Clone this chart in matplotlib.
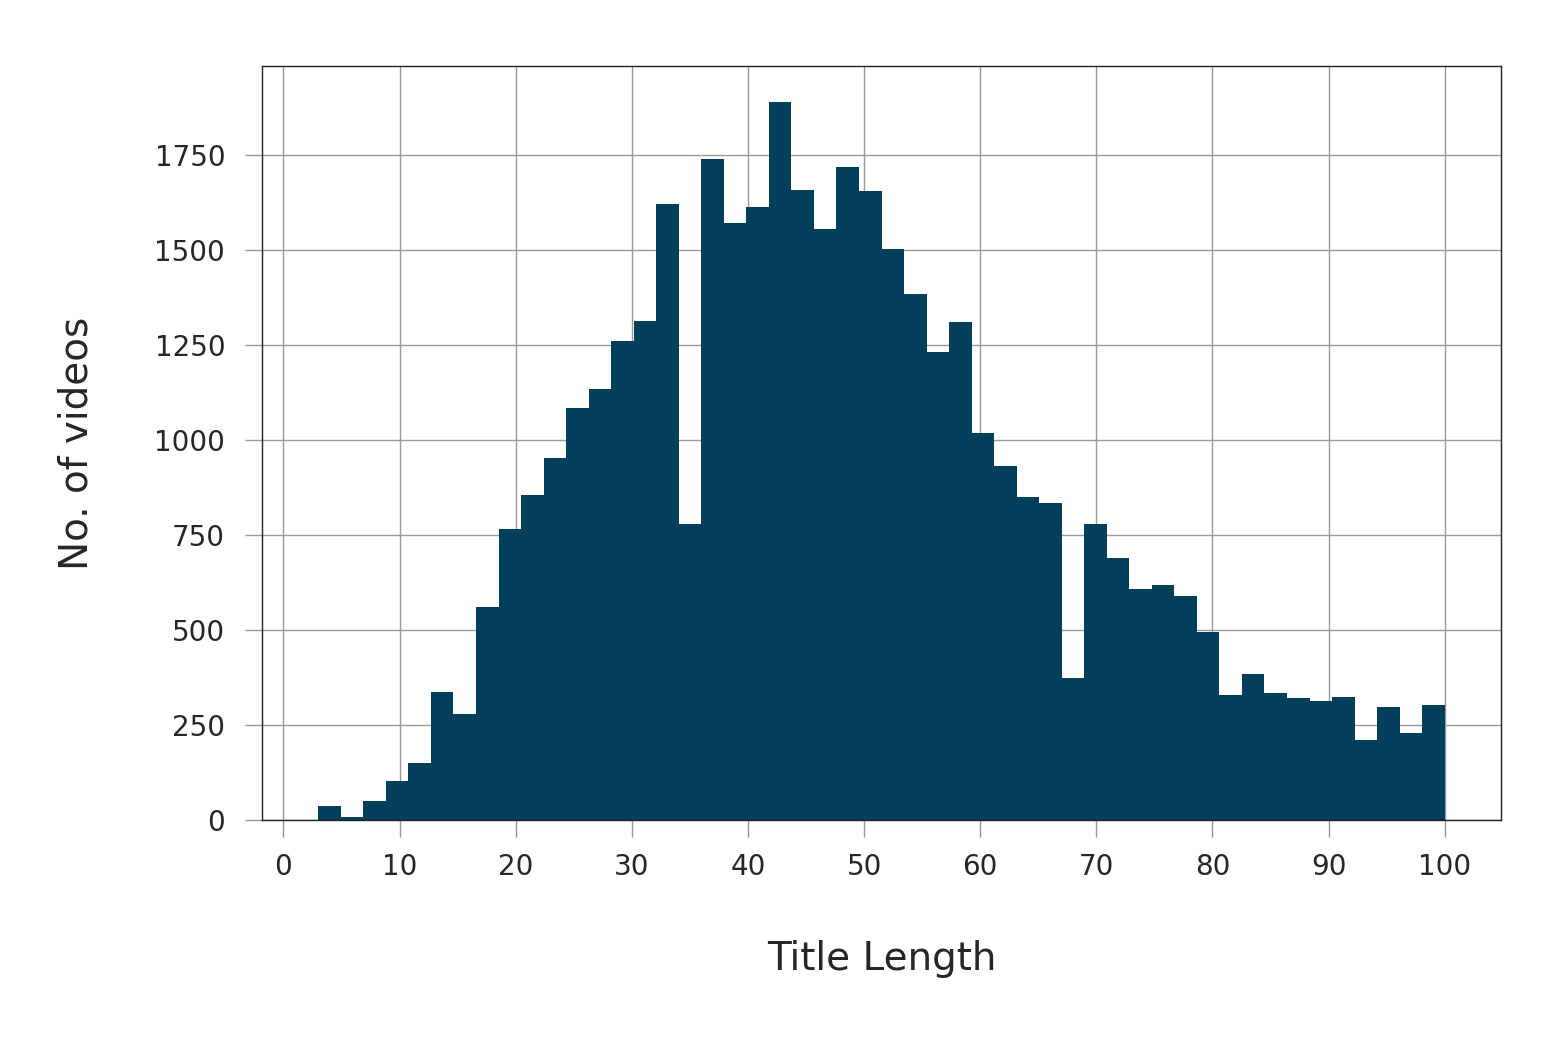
import numpy as np
import matplotlib
matplotlib.use('Agg')
import matplotlib.pyplot as plt

# ------------- DATA ------------- #
# title length histogram: 50 bins between shortest and longest title
len_min = 3
len_max = 100
n_bins = 50
counts = [37, 8, 51, 102, 150, 336, 279, 560, 765, 854,
          951, 1085, 1135, 1261, 1312, 1621, 778, 1739, 1571, 1613,
          1889, 1658, 1556, 1718, 1655, 1503, 1385, 1232, 1311, 1017,
          930, 851, 833, 374, 778, 688, 609, 617, 588, 494,
          328, 384, 334, 321, 313, 323, 210, 297, 229, 302]
x_ticks = list(range(0, 101, 10))
y_ticks = list(range(0, 1751, 250))

edges = np.linspace(len_min, len_max, n_bins + 1)

# ------------- PLOT ------------- #
plt.rcParams['font.family'] = ['DejaVu Sans']
text_col = '#262626'
grid_col = '#999999'

fig = plt.figure(figsize=(15.66, 10.38), dpi=100)
ax = fig.add_axes([0.1673, 0.21, 0.7912, 0.7264])

ax.hist(edges[:-1], bins=edges, weights=counts, color='#023f5a')

ax.set_xticks(x_ticks)
ax.set_yticks(y_ticks)
ax.grid(True, color=grid_col, linewidth=1)
ax.set_axisbelow(True)
ax.tick_params(axis='both', length=12.5, width=1, color=grid_col,
               labelsize=20, labelcolor=text_col)
ax.tick_params(axis='x', pad=11)
ax.tick_params(axis='y', pad=14)
for s in ax.spines.values():
    s.set_color('#222222')
    s.set_linewidth(1)

ax.set_xlabel('Title Length', fontsize=28, color=text_col, labelpad=43)
ax.set_ylabel('No. of videos', fontsize=28, color=text_col, labelpad=42)

plt.savefig('out.png', dpi=100)
